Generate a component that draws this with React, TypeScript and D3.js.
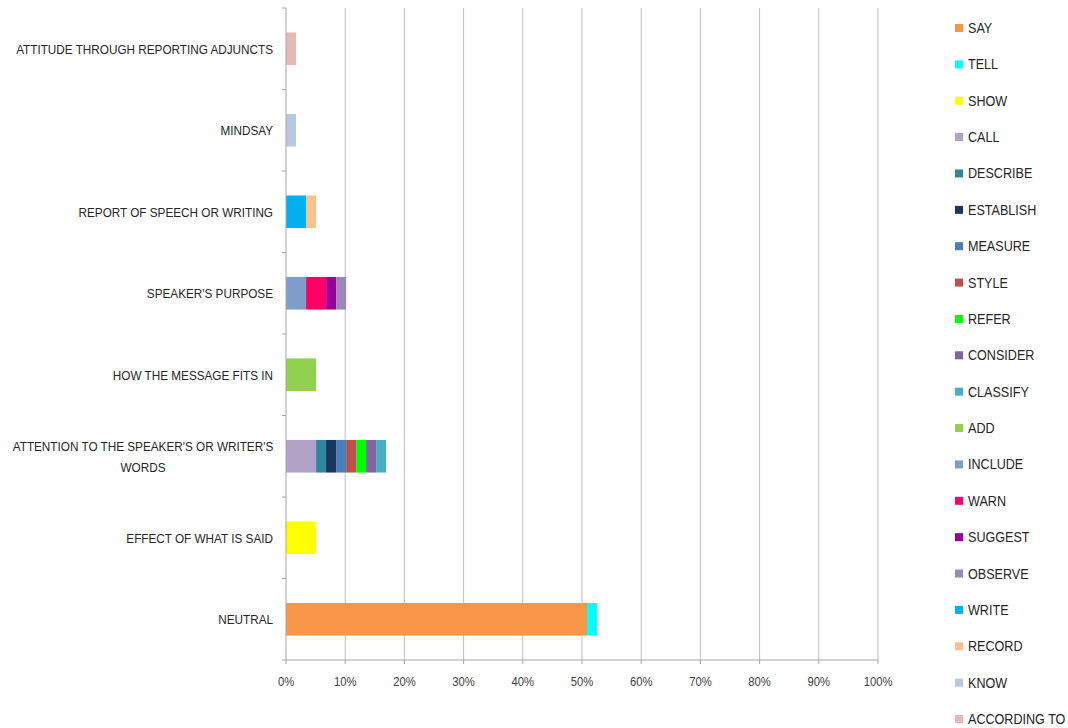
import React from "react";
import * as d3 from "d3";

const categories = [
  "ATTITUDE THROUGH REPORTING ADJUNCTS",
  "MINDSAY",
  "REPORT OF SPEECH OR WRITING",
  "SPEAKER'S PURPOSE",
  "HOW THE MESSAGE FITS IN",
  "ATTENTION TO THE SPEAKER'S OR WRITER'S WORDS",
  "EFFECT OF WHAT IS SAID",
  "NEUTRAL",
];

const seriesNames = [
  "SAY", "TELL", "SHOW", "CALL", "DESCRIBE", "ESTABLISH", "MEASURE", "STYLE", "REFER", "CONSIDER",
  "CLASSIFY", "ADD", "INCLUDE", "WARN", "SUGGEST", "OBSERVE", "WRITE", "RECORD", "KNOW", "ACCORDING TO",
];

const seriesColors = [
  "#f79646", "#00ffff", "#ffff00", "#b3a2c7", "#31859c", "#17375e", "#4a7ebb", "#c0504d", "#00ff00", "#8064a2",
  "#4bacc6", "#92d050", "#7f9dc9", "#ff0066", "#990099", "#9b88b7", "#00b0f0", "#fac090", "#b9c8e1", "#e6b9b8",
];

// values in percent, per series, in category order above
const seriesValues: number[][] = [
  /* SAY */ [0, 0, 0, 0, 0, 0, 0, 50.85],
  /* TELL */ [0, 0, 0, 0, 0, 0, 0, 1.69],
  /* SHOW */ [0, 0, 0, 0, 0, 0, 5.08, 0],
  /* CALL */ [0, 0, 0, 0, 0, 5.08, 0, 0],
  /* DESCRIBE */ [0, 0, 0, 0, 0, 1.69, 0, 0],
  /* ESTABLISH */ [0, 0, 0, 0, 0, 1.69, 0, 0],
  /* MEASURE */ [0, 0, 0, 0, 0, 1.69, 0, 0],
  /* STYLE */ [0, 0, 0, 0, 0, 1.69, 0, 0],
  /* REFER */ [0, 0, 0, 0, 0, 1.69, 0, 0],
  /* CONSIDER */ [0, 0, 0, 0, 0, 1.69, 0, 0],
  /* CLASSIFY */ [0, 0, 0, 0, 0, 1.69, 0, 0],
  /* ADD */ [0, 0, 0, 0, 5.08, 0, 0, 0],
  /* INCLUDE */ [0, 0, 0, 3.39, 0, 0, 0, 0],
  /* WARN */ [0, 0, 0, 3.39, 0, 0, 0, 0],
  /* SUGGEST */ [0, 0, 0, 1.69, 0, 0, 0, 0],
  /* OBSERVE */ [0, 0, 0, 1.69, 0, 0, 0, 0],
  /* WRITE */ [0, 0, 3.39, 0, 0, 0, 0, 0],
  /* RECORD */ [0, 0, 1.69, 0, 0, 0, 0, 0],
  /* KNOW */ [0, 1.69, 0, 0, 0, 0, 0, 0],
  /* ACCORDING TO */ [1.69, 0, 0, 0, 0, 0, 0, 0],
];

const xTicks = [0, 10, 20, 30, 40, 50, 60, 70, 80, 90, 100];

const labelLines: Record<string, string[]> = {
  "ATTENTION TO THE SPEAKER'S OR WRITER'S WORDS": ["ATTENTION TO THE SPEAKER'S OR WRITER'S", "WORDS"],
};

const FONT = "'Liberation Sans', Arial, sans-serif";

export default function App() {
  const W = 1068, H = 728;
  const left = 286, right = 878, top = 8, bottom = 660;
  const x = d3.scaleLinear().domain([0, 100]).range([left, right]);
  const y = d3.scaleBand<string>().domain(categories).range([top, bottom]).paddingInner(0).paddingOuter(0);
  const bw = y.bandwidth();
  const barH = bw * 0.4;

  const data = categories.map((c, ci) => {
    const row: Record<string, number | string> = { cat: c };
    seriesNames.forEach((s, si) => (row[s] = seriesValues[si][ci]));
    return row;
  });
  const stack = d3.stack<Record<string, number | string>>().keys(seriesNames).value((d, k) => d[k] as number);
  const stacked = stack(data);

  const legendY = d3.scaleLinear().domain([0, seriesNames.length - 1]).range([28, 719]);

  const catScale = 0.87;
  const legScale = 0.9;
  const tickScale = 0.9;

  return (
    <svg width={W} height={H} style={{ position: "absolute", left: 0, top: 0, background: "#fff" }} fontFamily={FONT}>
      <rect x={0} y={0} width={W} height={H} fill="#fff" />
      {xTicks.slice(1).map((t) => (
        <line key={t} x1={x(t)} x2={x(t)} y1={top} y2={bottom} stroke="#bfbfbf" strokeWidth={1} />
      ))}
      {stacked.map((layer, si) =>
        layer.map((seg, ci) =>
          seg[1] - seg[0] > 0 ? (
            <rect
              key={`${si}-${ci}`}
              x={x(seg[0])}
              width={x(seg[1]) - x(seg[0])}
              y={(y(categories[ci]) as number) + (bw - barH) / 2}
              height={barH}
              fill={seriesColors[si]}
            />
          ) : null
        )
      )}
      <line x1={left} x2={left} y1={top} y2={bottom} stroke="#a6a6a6" />
      <line x1={left - 4} x2={right} y1={bottom} y2={bottom} stroke="#a6a6a6" />
      {categories.map((c, i) => (
        <line key={c} x1={left - 4} x2={left} y1={top + i * bw} y2={top + i * bw} stroke="#a6a6a6" />
      ))}
      {xTicks.map((t) => (
        <g key={t}>
          <line x1={x(t)} x2={x(t)} y1={bottom} y2={bottom + 4} stroke="#a6a6a6" />
          <text
            transform={`translate(${x(t)},${bottom + 26}) scale(${tickScale},1)`}
            textAnchor="middle"
            fontSize={12.5}
            fill="#404040"
          >
            {t}%
          </text>
        </g>
      ))}
      {categories.map((c) => {
        const lines = labelLines[c] || [c];
        const cy = (y(c) as number) + bw / 2;
        return (
          <g key={c}>
            {lines.map((ln, i) => {
              const multi = lines.length > 1;
              const tx = multi ? 143 : 273;
              const ty = cy + 5 + (i - (lines.length - 1) / 2) * 21;
              return (
                <text
                  key={i}
                  transform={`translate(${tx},${ty}) scale(${catScale},1)`}
                  textAnchor={multi ? "middle" : "end"}
                  fontSize={13.5}
                  fill="#262626"
                >
                  {ln}
                </text>
              );
            })}
          </g>
        );
      })}
      {seriesNames.map((s, i) => (
        <g key={s}>
          <rect x={955} y={legendY(i) - 4} width={8} height={8} fill={seriesColors[i]} />
          <text
            transform={`translate(968,${legendY(i) + 5}) scale(${legScale},1)`}
            fontSize={14}
            fill="#262626"
          >
            {s}
          </text>
        </g>
      ))}
    </svg>
  );
}
